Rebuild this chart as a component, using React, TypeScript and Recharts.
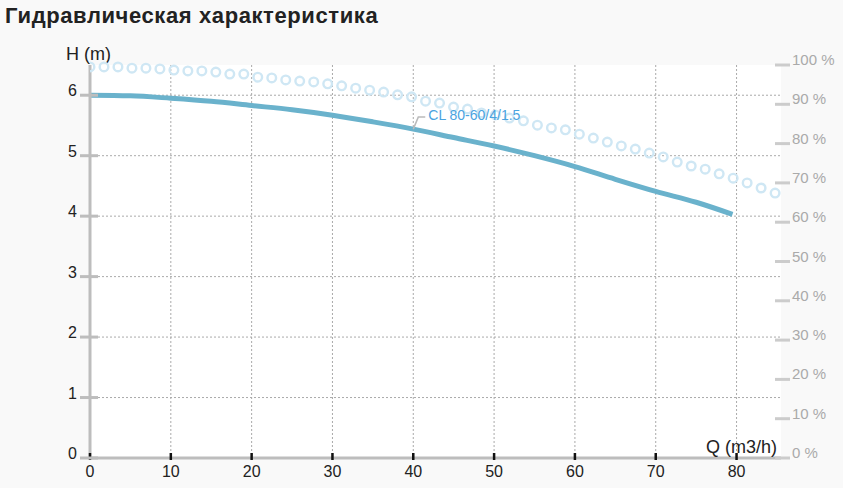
import React from 'react';
import {
  CartesianGrid,
  ComposedChart,
  Line,
  XAxis,
  YAxis,
} from 'recharts';

// Flow (m3/h) and head (m)
const FLOW_HEAD = [0, 5, 10, 15, 20, 25, 30, 35, 40, 45, 50, 55, 60, 65, 70, 75, 79.5];
const HEAD = [6.0, 5.99, 5.95, 5.9, 5.83, 5.76, 5.67, 5.56, 5.44, 5.3, 5.16, 5.0, 4.82, 4.61, 4.41, 4.23, 4.03];

// Efficiency markers (%)
const FLOW_EFF = [
  0, 1.73, 3.46, 5.19, 6.92, 8.65, 10.38, 12.11, 13.84, 15.57,
  17.3, 19.03, 20.76, 22.49, 24.22, 25.95, 27.68, 29.41, 31.14, 32.87,
  34.6, 36.33, 38.06, 39.79, 41.52, 43.25, 44.98, 46.71, 48.44, 50.17,
  51.9, 53.63, 55.36, 57.09, 58.82, 60.55, 62.28, 64.01, 65.74, 67.47,
  69.2, 70.93, 72.66, 74.39, 76.12, 77.85, 79.58, 81.31, 83.04, 84.77,
];
const EFFICIENCY = [
  99.5, 99.5, 99.5, 99.2, 99.2, 99.0, 98.7, 98.5, 98.5, 98.2,
  97.7, 97.7, 96.9, 96.7, 96.2, 95.9, 95.7, 95.2, 94.7, 94.1,
  93.6, 93.1, 92.4, 91.9, 90.8, 90.3, 89.3, 88.8, 87.8, 87.3,
  86.5, 85.8, 84.7, 84.0, 83.5, 82.4, 81.4, 80.4, 79.4, 78.6,
  77.6, 76.6, 75.3, 74.3, 73.5, 72.3, 71.2, 70.0, 68.7, 67.4,
];

const Q_TICKS = [0, 10, 20, 30, 40, 50, 60, 70, 80];
const H_TICKS = [0, 1, 2, 3, 4, 5, 6];
const EFF_TICKS = [0, 10, 20, 30, 40, 50, 60, 70, 80, 90, 100];

const SERIES_NAME = 'CL 80-60/4/1.5';
const LABEL_AT_FLOW = 40;

const FONT = 'Arial, "Liberation Sans", sans-serif';
const CURVE = '#6ab2cc';
const RING = '#cfe7f4';
const AXIS_GREY = '#bdbdbd';

const headData = FLOW_HEAD.map((q, i) => ({ q, h: HEAD[i] }));
const effData = FLOW_EFF.map((q, i) => ({ q, eff: EFFICIENCY[i] }));

function LeftTick(props: any) {
  const { x, y, payload } = props;
  return (
    <g>
      <line x1={x - 2} x2={x + 16} y1={y} y2={y} stroke={AXIS_GREY} strokeWidth={3} />
      <text x={x - 5} y={y + 1} textAnchor="end" fontSize={16} fill="#222" fontFamily={FONT}>
        {payload.value}
      </text>
    </g>
  );
}

function RightTick(props: any) {
  const { x, y, payload } = props;
  return (
    <g>
      <line x1={x - 14} x2={x + 1} y1={y} y2={y} stroke="#cccccc" strokeWidth={3} />
      <text x={x + 3} y={y} textAnchor="start" fontSize={15} fill="#aaaaaa" fontFamily={FONT}>
        {`${payload.value} %`}
      </text>
    </g>
  );
}

function BottomTick(props: any) {
  const { x, y, payload } = props;
  return (
    <g>
      <line x1={x} x2={x} y1={y - 13} y2={y - 6} stroke="#111" strokeWidth={2.5} />
      <text x={x} y={y + 11} textAnchor="middle" fontSize={16} fill="#222" fontFamily={FONT}>
        {payload.value}
      </text>
    </g>
  );
}

function Ring(props: any) {
  const { cx, cy, index } = props;
  if (cx == null || cy == null) return <g key={index} />;
  return <circle key={index} cx={cx} cy={cy} r={4.3} fill="none" stroke={RING} strokeWidth={2.4} />;
}

function SeriesLabel(props: any) {
  const { x, y, index } = props;
  if (FLOW_HEAD[index] !== LABEL_AT_FLOW) return null;
  return (
    <g>
      <polyline
        points={`${x},${y} ${x + 5},${y - 12} ${x + 12},${y - 12}`}
        fill="none"
        stroke="#bbbbbb"
        strokeWidth={1.5}
      />
      <text x={x + 15} y={y - 9} fontSize={14} fill="#4aa3df" fontFamily={FONT}>
        {SERIES_NAME}
      </text>
    </g>
  );
}

export default function App() {
  return (
    <div
      style={{
        position: 'fixed',
        left: 0,
        top: 0,
        width: 843,
        height: 488,
        background: '#f9f9f9',
        fontFamily: FONT,
      }}
    >
      <div
        style={{
          position: 'absolute',
          left: 5,
          top: 3,
          fontSize: 22,
          fontWeight: 700,
          letterSpacing: 0.6,
          color: '#222',
        }}
      >
        Гидравлическая характеристика
      </div>
      <div style={{ position: 'absolute', left: 66, top: 44, fontSize: 18, color: '#222' }}>
        H (m)
      </div>
      <ComposedChart
        width={843}
        height={488}
        margin={{ top: 65, right: 0, bottom: 0, left: 0 }}
        style={{ position: 'absolute', left: 0, top: 0 }}
      >
        <CartesianGrid
          yAxisId="h"
          fill="#ffffff"
          stroke="#aaaaaa"
          strokeDasharray="2 2"
          horizontalValues={H_TICKS}
          verticalValues={Q_TICKS}
        />
        <XAxis
          dataKey="q"
          type="number"
          domain={[0, 85.5]}
          ticks={Q_TICKS}
          height={30}
          allowDataOverflow
          axisLine={{ stroke: AXIS_GREY, strokeWidth: 3 }}
          tickLine={false}
          tick={<BottomTick />}
        />
        <YAxis
          yAxisId="h"
          orientation="left"
          width={90}
          domain={[0, 6.5]}
          ticks={H_TICKS}
          allowDataOverflow
          axisLine={{ stroke: AXIS_GREY, strokeWidth: 3 }}
          tickLine={false}
          tick={<LeftTick />}
        />
        <YAxis
          yAxisId="eff"
          orientation="right"
          width={62}
          domain={[0, 100]}
          ticks={EFF_TICKS}
          axisLine={false}
          tickLine={false}
          tick={<RightTick />}
        />
        <Line
          yAxisId="eff"
          data={effData}
          dataKey="eff"
          stroke="none"
          dot={<Ring />}
          activeDot={false}
          isAnimationActive={false}
        />
        <Line
          yAxisId="h"
          data={headData}
          dataKey="h"
          type="monotone"
          stroke={CURVE}
          strokeWidth={5}
          dot={false}
          activeDot={false}
          label={<SeriesLabel />}
          isAnimationActive={false}
        />
      </ComposedChart>
      <div style={{ position: 'absolute', left: 706, top: 437, fontSize: 18, color: '#222' }}>
        Q (m3/h)
      </div>
    </div>
  );
}
